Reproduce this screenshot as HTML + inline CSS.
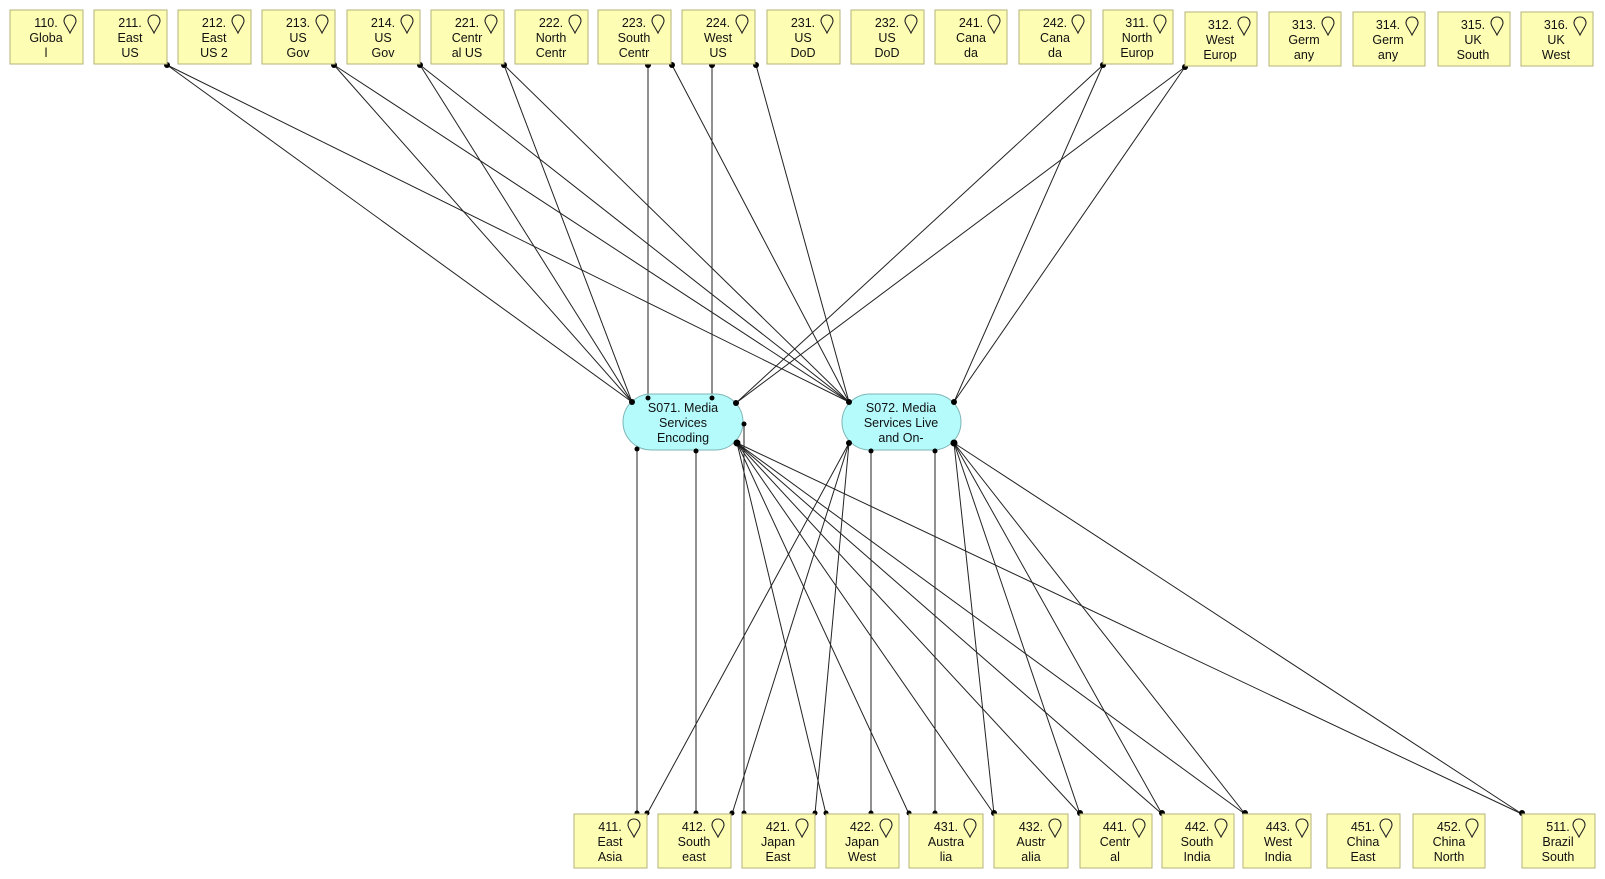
<!DOCTYPE html>
<html><head><meta charset="utf-8"><style>
html,body{margin:0;padding:0;background:#fff;}
svg{display:block;}
text{font-family:"Liberation Sans",sans-serif;font-size:12.5px;fill:#111;}
</style></head><body>
<svg width="1605" height="879" viewBox="0 0 1605 879" xmlns="http://www.w3.org/2000/svg">
<defs>
<g id="pin"><path d="M0,0 c-4,0 -6,3 -6,6 c0,3 3,6 6,12 c3,-6 6,-9 6,-12 c0,-3 -2,-6 -6,-6z" fill="none" stroke="#222" stroke-width="1.1"/></g>
</defs>
<g stroke="#222" stroke-width="1" fill="none">
<line x1="167" y1="65" x2="632" y2="402"/>
<line x1="334" y1="65" x2="632" y2="402"/>
<line x1="420" y1="65" x2="632" y2="402"/>
<line x1="504" y1="65" x2="632" y2="402"/>
<line x1="648" y1="65" x2="648" y2="398"/>
<line x1="712" y1="65" x2="712" y2="398"/>
<line x1="1103" y1="65" x2="736" y2="403"/>
<line x1="1185" y1="67" x2="736" y2="403"/>
<line x1="167" y1="65" x2="849" y2="402"/>
<line x1="334" y1="65" x2="849" y2="402"/>
<line x1="420" y1="65" x2="849" y2="402"/>
<line x1="504" y1="65" x2="849" y2="402"/>
<line x1="672" y1="65" x2="849" y2="402"/>
<line x1="756" y1="65" x2="849" y2="402"/>
<line x1="1103" y1="65" x2="954" y2="402"/>
<line x1="1185" y1="67" x2="954" y2="402"/>
<line x1="637" y1="449" x2="637" y2="814"/>
<line x1="696" y1="451" x2="696" y2="814"/>
<line x1="744" y1="424" x2="744" y2="814"/>
<line x1="871" y1="451" x2="871" y2="814"/>
<line x1="935" y1="451" x2="935" y2="814"/>
<line x1="737" y1="443" x2="826" y2="814"/>
<line x1="737" y1="443" x2="909" y2="814"/>
<line x1="737" y1="443" x2="994" y2="814"/>
<line x1="737" y1="443" x2="1080" y2="814"/>
<line x1="737" y1="443" x2="1162" y2="814"/>
<line x1="737" y1="443" x2="1245" y2="814"/>
<line x1="737" y1="443" x2="1522" y2="814"/>
<line x1="849" y1="443" x2="647" y2="814"/>
<line x1="849" y1="443" x2="732" y2="814"/>
<line x1="849" y1="443" x2="815" y2="814"/>
<line x1="954" y1="443" x2="994" y2="814"/>
<line x1="954" y1="443" x2="1080" y2="814"/>
<line x1="954" y1="443" x2="1162" y2="814"/>
<line x1="954" y1="443" x2="1245" y2="814"/>
<line x1="954" y1="443" x2="1522" y2="814"/>
</g>
<rect x="623" y="394" width="120" height="56" rx="28" fill="#b5fbfb" stroke="#7fb5b5"/>
<text x="683" y="412" text-anchor="middle">S071. Media</text>
<text x="683" y="427" text-anchor="middle">Services</text>
<text x="683" y="442" text-anchor="middle">Encoding</text>
<rect x="842" y="394" width="119" height="56" rx="28" fill="#b5fbfb" stroke="#7fb5b5"/>
<text x="901" y="412" text-anchor="middle">S072. Media</text>
<text x="901" y="427" text-anchor="middle">Services Live</text>
<text x="901" y="442" text-anchor="middle">and On-</text>
<g fill="#000">
<circle cx="167" cy="65" r="3"/><circle cx="334" cy="65" r="3"/><circle cx="420" cy="65" r="3"/><circle cx="504" cy="65" r="3"/>
<circle cx="648" cy="65" r="3"/><circle cx="672" cy="65" r="3"/><circle cx="712" cy="65" r="3"/><circle cx="756" cy="65" r="3"/>
<circle cx="1103" cy="65" r="3"/><circle cx="1185" cy="67" r="3"/>
<circle cx="632" cy="402" r="3"/><circle cx="648" cy="398" r="2.5"/><circle cx="712" cy="398" r="2.5"/><circle cx="736" cy="403" r="3"/>
<circle cx="849" cy="402" r="3"/><circle cx="954" cy="402" r="3"/>
<circle cx="637" cy="449" r="2.5"/><circle cx="696" cy="451" r="2.5"/><circle cx="744" cy="424" r="2.5"/>
<circle cx="737" cy="443" r="3.5"/><circle cx="849" cy="443" r="3"/><circle cx="871" cy="451" r="2.5"/><circle cx="935" cy="451" r="2.5"/><circle cx="954" cy="443" r="3.5"/>
<circle cx="637" cy="813" r="2.5"/><circle cx="647" cy="813" r="2.5"/><circle cx="696" cy="813" r="2.5"/><circle cx="732" cy="813" r="2.5"/>
<circle cx="744" cy="813" r="2.5"/><circle cx="815" cy="813" r="2.5"/><circle cx="826" cy="813" r="2.5"/><circle cx="871" cy="813" r="2.5"/>
<circle cx="909" cy="813" r="2.5"/><circle cx="935" cy="813" r="2.5"/><circle cx="994" cy="813" r="3"/><circle cx="1080" cy="813" r="3"/>
<circle cx="1162" cy="813" r="3"/><circle cx="1245" cy="813" r="3"/><circle cx="1522" cy="813" r="3"/>
</g>
<g fill="#fdfdb4" stroke="#b5b37a">
<rect x="10" y="10" width="73" height="54"/><rect x="94" y="10" width="73" height="54"/><rect x="178" y="10" width="73" height="54"/>
<rect x="262" y="10" width="73" height="54"/><rect x="347" y="10" width="73" height="54"/><rect x="431" y="10" width="73" height="54"/>
<rect x="515" y="10" width="73" height="54"/><rect x="598" y="10" width="73" height="54"/><rect x="682" y="10" width="73" height="54"/>
<rect x="767" y="10" width="73" height="54"/><rect x="851" y="10" width="73" height="54"/><rect x="935" y="10" width="72" height="54"/>
<rect x="1019" y="10" width="72" height="54"/><rect x="1103" y="10" width="70" height="54"/><rect x="1185" y="12" width="72" height="54"/>
<rect x="1269" y="12" width="72" height="54"/><rect x="1353" y="12" width="72" height="54"/><rect x="1438" y="12" width="72" height="54"/>
<rect x="1521" y="12" width="72" height="54"/>
<rect x="574" y="814" width="73" height="54"/><rect x="658" y="814" width="73" height="54"/><rect x="742" y="814" width="73" height="54"/>
<rect x="826" y="814" width="73" height="54"/><rect x="909" y="814" width="74" height="54"/><rect x="994" y="814" width="74" height="54"/>
<rect x="1080" y="814" width="72" height="54"/><rect x="1162" y="814" width="72" height="54"/><rect x="1243" y="814" width="68" height="54"/>
<rect x="1327" y="814" width="73" height="54"/><rect x="1413" y="814" width="72" height="54"/><rect x="1522" y="814" width="73" height="54"/>
</g>
<g>
<use href="#pin" x="70" y="15"/><use href="#pin" x="154" y="15"/><use href="#pin" x="238" y="15"/><use href="#pin" x="322" y="15"/>
<use href="#pin" x="407" y="15"/><use href="#pin" x="491" y="15"/><use href="#pin" x="575" y="15"/><use href="#pin" x="658" y="15"/>
<use href="#pin" x="742" y="15"/><use href="#pin" x="827" y="15"/><use href="#pin" x="911" y="15"/><use href="#pin" x="994" y="15"/>
<use href="#pin" x="1078" y="15"/><use href="#pin" x="1160" y="15"/><use href="#pin" x="1244" y="17"/><use href="#pin" x="1328" y="17"/>
<use href="#pin" x="1412" y="17"/><use href="#pin" x="1497" y="17"/><use href="#pin" x="1580" y="17"/>
<use href="#pin" x="634" y="819"/><use href="#pin" x="718" y="819"/><use href="#pin" x="802" y="819"/><use href="#pin" x="886" y="819"/>
<use href="#pin" x="970" y="819"/><use href="#pin" x="1055" y="819"/><use href="#pin" x="1139" y="819"/><use href="#pin" x="1221" y="819"/>
<use href="#pin" x="1302" y="819"/><use href="#pin" x="1386" y="819"/><use href="#pin" x="1472" y="819"/><use href="#pin" x="1579" y="819"/>
</g>
<g text-anchor="middle">
<text x="46" y="27">110.</text><text x="46" y="42">Globa</text><text x="46" y="57">l</text>
<text x="130" y="27">211.</text><text x="130" y="42">East</text><text x="130" y="57">US</text>
<text x="214" y="27">212.</text><text x="214" y="42">East</text><text x="214" y="57">US 2</text>
<text x="298" y="27">213.</text><text x="298" y="42">US</text><text x="298" y="57">Gov</text>
<text x="383" y="27">214.</text><text x="383" y="42">US</text><text x="383" y="57">Gov</text>
<text x="467" y="27">221.</text><text x="467" y="42">Centr</text><text x="467" y="57">al US</text>
<text x="551" y="27">222.</text><text x="551" y="42">North</text><text x="551" y="57">Centr</text>
<text x="634" y="27">223.</text><text x="634" y="42">South</text><text x="634" y="57">Centr</text>
<text x="718" y="27">224.</text><text x="718" y="42">West</text><text x="718" y="57">US</text>
<text x="803" y="27">231.</text><text x="803" y="42">US</text><text x="803" y="57">DoD</text>
<text x="887" y="27">232.</text><text x="887" y="42">US</text><text x="887" y="57">DoD</text>
<text x="971" y="27">241.</text><text x="971" y="42">Cana</text><text x="971" y="57">da</text>
<text x="1055" y="27">242.</text><text x="1055" y="42">Cana</text><text x="1055" y="57">da</text>
<text x="1137" y="27">311.</text><text x="1137" y="42">North</text><text x="1137" y="57">Europ</text>
<text x="1220" y="29">312.</text><text x="1220" y="44">West</text><text x="1220" y="59">Europ</text>
<text x="1304" y="29">313.</text><text x="1304" y="44">Germ</text><text x="1304" y="59">any</text>
<text x="1388" y="29">314.</text><text x="1388" y="44">Germ</text><text x="1388" y="59">any</text>
<text x="1473" y="29">315.</text><text x="1473" y="44">UK</text><text x="1473" y="59">South</text>
<text x="1556" y="29">316.</text><text x="1556" y="44">UK</text><text x="1556" y="59">West</text>
<text x="610" y="831">411.</text><text x="610" y="846">East</text><text x="610" y="861">Asia</text>
<text x="694" y="831">412.</text><text x="694" y="846">South</text><text x="694" y="861">east</text>
<text x="778" y="831">421.</text><text x="778" y="846">Japan</text><text x="778" y="861">East</text>
<text x="862" y="831">422.</text><text x="862" y="846">Japan</text><text x="862" y="861">West</text>
<text x="946" y="831">431.</text><text x="946" y="846">Austra</text><text x="946" y="861">lia</text>
<text x="1031" y="831">432.</text><text x="1031" y="846">Austr</text><text x="1031" y="861">alia</text>
<text x="1115" y="831">441.</text><text x="1115" y="846">Centr</text><text x="1115" y="861">al</text>
<text x="1197" y="831">442.</text><text x="1197" y="846">South</text><text x="1197" y="861">India</text>
<text x="1278" y="831">443.</text><text x="1278" y="846">West</text><text x="1278" y="861">India</text>
<text x="1363" y="831">451.</text><text x="1363" y="846">China</text><text x="1363" y="861">East</text>
<text x="1449" y="831">452.</text><text x="1449" y="846">China</text><text x="1449" y="861">North</text>
<text x="1558" y="831">511.</text><text x="1558" y="846">Brazil</text><text x="1558" y="861">South</text>
</g>
</svg>
</body></html>
